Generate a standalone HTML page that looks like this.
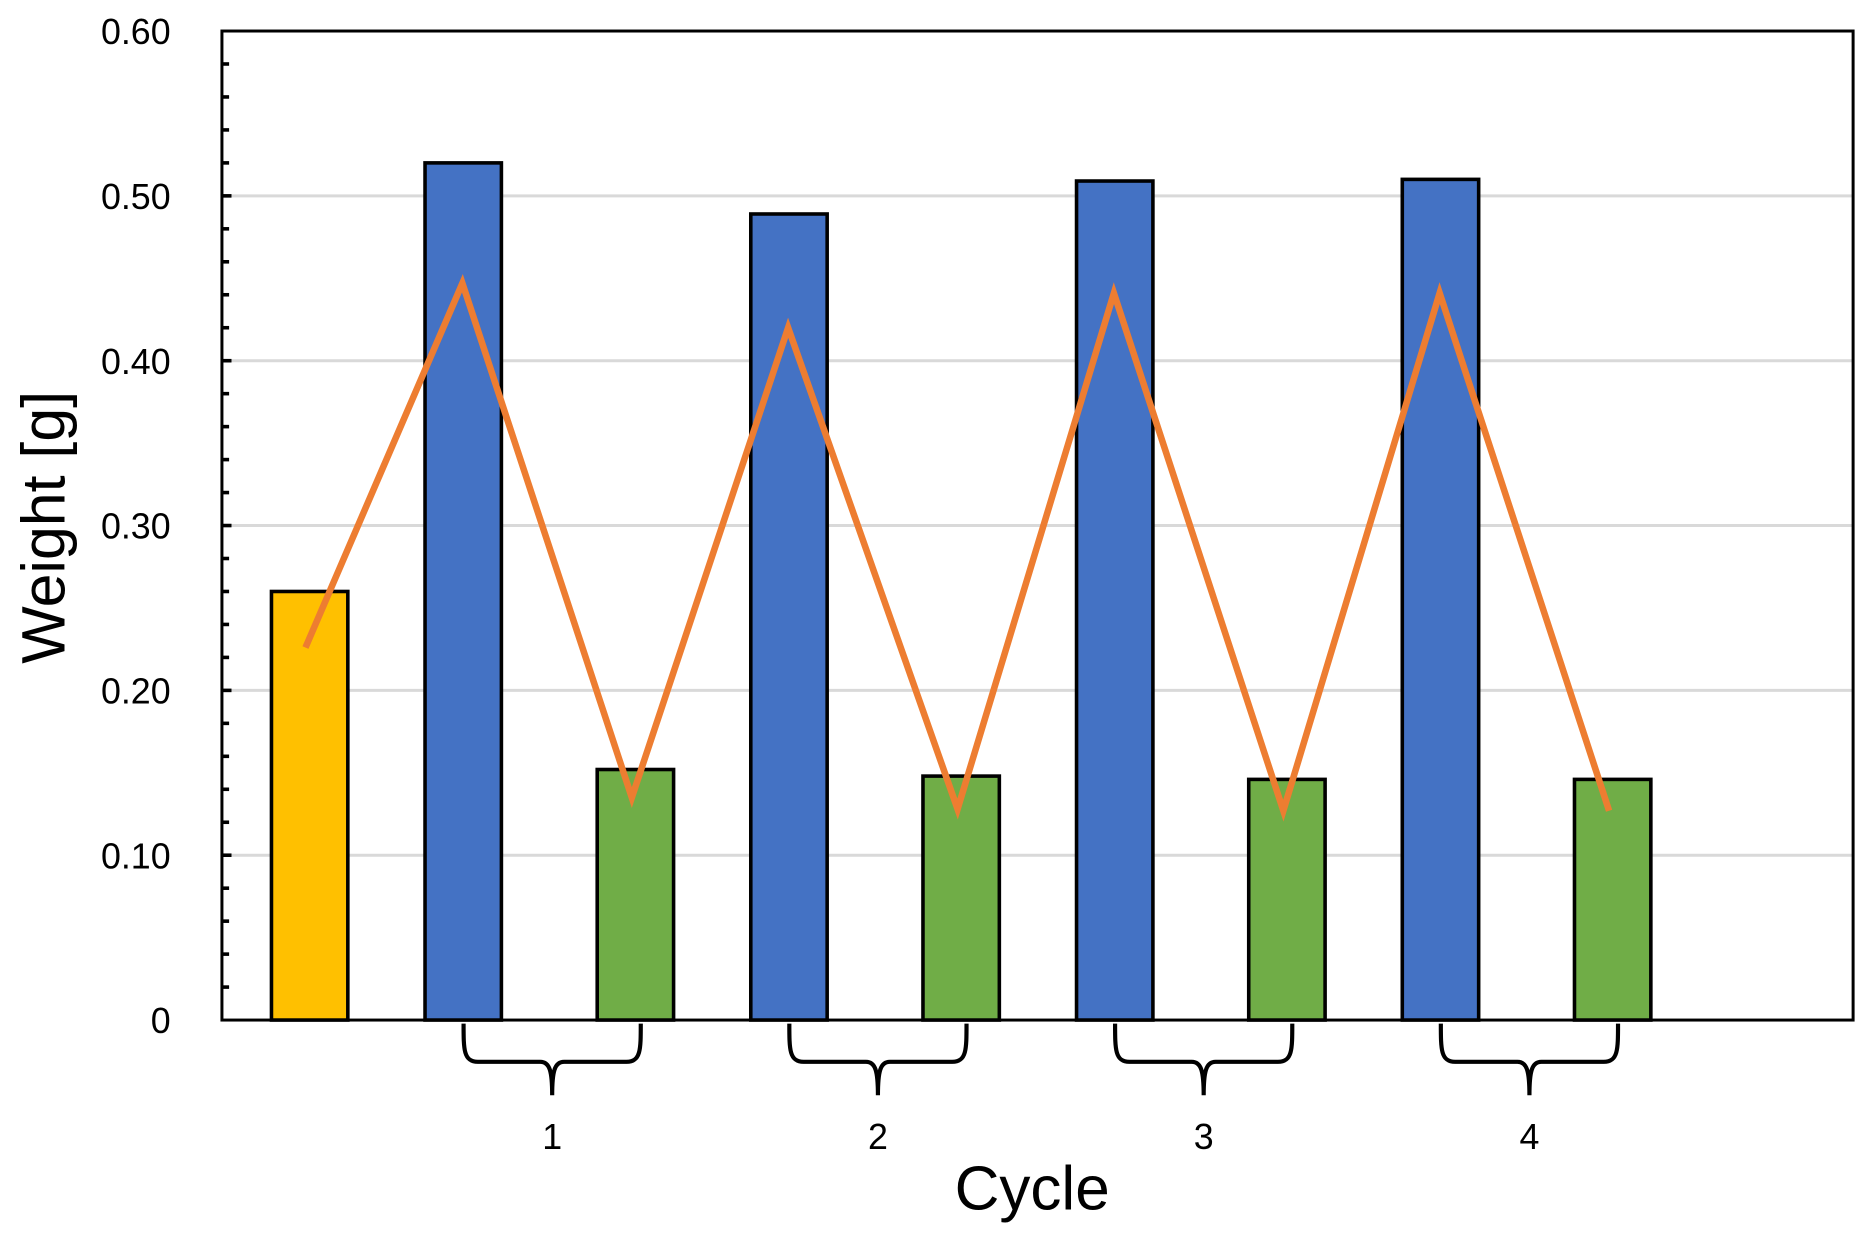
<!DOCTYPE html>
<html><head><meta charset="utf-8"><style>
html,body{margin:0;padding:0;background:#fff;}
svg{display:block;}
text{font-family:"Liberation Sans",Arial,sans-serif;fill:#000;}
</style></head><body>
<svg id="chart" width="1871" height="1236" viewBox="0 0 1568 1036" preserveAspectRatio="none" xmlns="http://www.w3.org/2000/svg">
<g id="grid"></g>
<g id="bars"></g>
<g id="line"></g>
<g id="axes"></g>
<g id="braces"></g>
<text x="0" y="0" font-size="51" text-anchor="middle" transform="translate(54,442) rotate(-90)">Weight [g]</text>
<text x="865" y="1014" font-size="52" text-anchor="middle">Cycle</text>
</svg>
<script>
const barValues = [0.26, 0.52, 0.152, 0.489, 0.148, 0.509, 0.146, 0.51, 0.146];
const barTypes = ['initial','wet','dry','wet','dry','wet','dry','wet','dry'];
const lineValues = [0.226, 0.447, 0.135, 0.42, 0.128, 0.441, 0.127, 0.441, 0.127];
const cycleLabels = ['1','2','3','4'];
const yTicks = [0, 0.1, 0.2, 0.3, 0.4, 0.5, 0.6];
const yTickLabels = ['0','0.10','0.20','0.30','0.40','0.50','0.60'];

const NS='http://www.w3.org/2000/svg';
const X0=186, X1=1553, Y0=855, Y1=26, YMAX=0.6;
const slotW=136.5, XS=256;
function y(v){return Y0-(v/YMAX)*(Y0-Y1);}
function xc(i){return XS+slotW*i;}
const offs={initial:3.5,wet:-4.3,dry:3.5};
const loffs={initial:0,wet:-5,dry:0.5};
const cols={initial:'#FFC000',wet:'#4472C4',dry:'#70AD47'};
function mk(tag,attrs,parent){const e=document.createElementNS(NS,tag);for(const k in attrs)e.setAttribute(k,attrs[k]);parent.appendChild(e);return e;}
const G=id=>document.getElementById(id);

yTicks.forEach((t,i)=>{
  if(t>0&&t<YMAX){
    const g=mk('line',{x1:X0,x2:X1,y1:y(t),y2:y(t),stroke:'#d9d9d9','stroke-width':2.5},G('grid'));
    
    
  }
  const tx=mk('text',{x:143,y:y(t)+11,'font-size':30,'text-anchor':'end'},G('axes'));
  tx.textContent=yTickLabels[i];
  
  
});
for(let k=1;k<30;k++){
  const v=k*0.02;
  const t=mk('line',{x1:X0,x2:X0+(k%5===0?8:6),y1:y(v),y2:y(v),stroke:'#000','stroke-width':3},G('axes'));
  
  
}
barValues.forEach((v,i)=>{
  const c=xc(i)+offs[barTypes[i]];
  const r=mk('rect',{x:c-32,y:y(v),width:64,height:Y0-y(v),fill:cols[barTypes[i]],stroke:'#000','stroke-width':3},G('bars'));
  
  
});
const pts=lineValues.map((v,i)=>(xc(i)+loffs[barTypes[i]])+','+y(v)).join(' ');
const pl=mk('polyline',{points:pts,fill:'none',stroke:'#ED7D31','stroke-width':5.5,'stroke-linejoin':'miter'},G('line'));



const frame=mk('rect',{x:X0,y:Y1,width:X1-X0,height:Y0-Y1,fill:'none',stroke:'#000','stroke-width':2.5},G('axes'));



cycleLabels.forEach((lab,k)=>{
  const a=xc(1+2*k), b=xc(2+2*k);
  const L=a-4,R=b+8,m=(L+R)/2;
  const d=`M${L},858 C${L},880 ${L},890 ${L+12},890 L${m-10},890 C${m-2},890 ${m},898 ${m},918 M${m},918 C${m},898 ${m+2},890 ${m+10},890 L${R-12},890 C${R},890 ${R},880 ${R},858`;
  const p=mk('path',{d:d,fill:'none',stroke:'#000','stroke-width':3.5},G('braces'));
  
  
  const t=mk('text',{x:m,y:963,'font-size':30,'text-anchor':'middle'},G('braces'));
  t.textContent=lab;
  
  
});
</script>
</body></html>
